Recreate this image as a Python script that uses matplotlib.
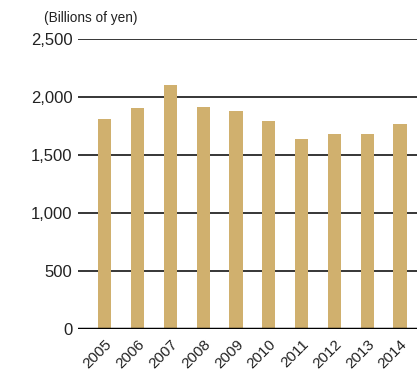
import matplotlib.pyplot as plt
import numpy as np

years = ["2005", "2006", "2007", "2008", "2009", "2010", "2011", "2012", "2013", "2014"]
values = [1810, 1905, 2103, 1914, 1879, 1793, 1638, 1681, 1681, 1767]
yticks = [0, 500, 1000, 1500, 2000, 2500]
ytick_labels = ["0", "500", "1,000", "1,500", "2,000", "2,500"]

plt.rcParams['font.family'] = ['Liberation Sans', 'DejaVu Sans']

fig = plt.figure(figsize=(4.17, 3.75), dpi=100)
ax = fig.add_axes([0.187, 0.1227, 0.813, 0.7733])

x = np.arange(len(years))
ax.bar(x, values, width=0.4, color='#D0B06E', zorder=3)

ax.set_ylim(0, 2500)
ax.set_xlim(-0.82, 9.52)
ax.set_yticks(yticks)
ax.set_yticklabels(ytick_labels, fontsize=12, color='#222222')
ax.set_xticks(x)
ax.set_xticklabels(years, rotation=45, ha='right', rotation_mode='anchor',
                   fontsize=11, color='#222222')
ax.tick_params(axis='both', length=0, pad=4)
ax.tick_params(axis='x', pad=6)

for y in yticks[1:]:
    ax.axhline(y, color='black', linewidth=1.1, zorder=2)
ax.axhline(0, color='black', linewidth=2.5, zorder=4)

for s in ax.spines.values():
    s.set_visible(False)

fig.text(0.105, 0.952, "(Billions of yen)", fontsize=9.8, color='#222222', va='center')

fig.savefig("out.png", dpi=100)
